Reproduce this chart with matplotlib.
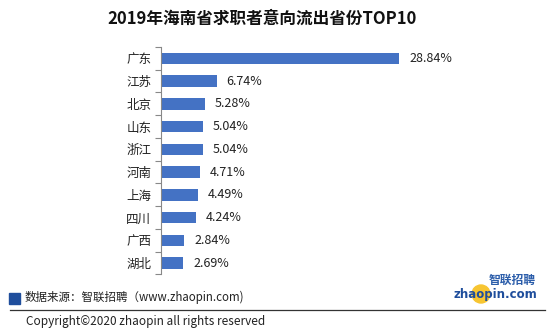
import matplotlib
matplotlib.use("Agg")
import matplotlib.pyplot as plt
from matplotlib.patches import Rectangle, Ellipse
from matplotlib.lines import Line2D

plt.rcParams['font.family'] = ['Noto Sans CJK SC', 'DejaVu Sans']

title = "2019年海南省求职者意向流出省份TOP10"
provinces = ["广东", "江苏", "北京", "山东", "浙江", "河南", "上海", "四川", "广西", "湖北"]
values = [28.84, 6.74, 5.28, 5.04, 5.04, 4.71, 4.49, 4.24, 2.84, 2.69]
labels = ["28.84%", "6.74%", "5.28%", "5.04%", "5.04%", "4.71%", "4.49%", "4.24%", "2.84%", "2.69%"]
source = "数据来源：智联招聘（www.zhaopin.com)"
copyright_text = "Copyright©2020 zhaopin all rights reserved"

W, H = 554, 335
fig = plt.figure(figsize=(W / 100, H / 100), dpi=100)
fig.patch.set_facecolor("white")

ax = fig.add_axes([161 / W, 1 - 274.5 / H, (450 - 161) / W, (274.5 - 47) / H])
bar_color = "#4472C4"
ypos = list(range(len(provinces)))
ax.barh(ypos, values, height=0.5, color=bar_color)
ax.set_ylim(len(provinces) - 0.5, -0.5)
ax.set_xlim(0, 35)
ax.set_yticks(ypos)
ax.set_yticklabels(provinces, fontsize=9, color="#222222")
ax.tick_params(axis="y", which="major", length=0, pad=7)
ax.set_yticks([i - 0.5 for i in range(len(provinces) + 1)], minor=True)
ax.tick_params(axis="y", which="minor", length=4, color="#888888", width=0.8)
ax.set_xticks([])
for s in ["top", "right", "bottom"]:
    ax.spines[s].set_visible(False)
ax.spines["left"].set_color("#888888")
ax.spines["left"].set_linewidth(0.8)
for y, v, lab in zip(ypos, values, labels):
    ax.text(v + 1.2, y, lab, va="center", ha="left", fontsize=9, color="#222222")

fig.text(262 / W, 1 - 19 / H, title, ha="center", va="center", fontsize=12,
         fontweight="bold", color="#111111")

# footer
fig.patches.append(Rectangle((9 / W, 1 - 304 / H), 11 / W, 11 / H, transform=fig.transFigure,
                             color="#1F4E9C", figure=fig))
fig.text(25 / W, 1 - 297 / H, source, ha="left", va="center", fontsize=8.3, color="#222222")
fig.lines.append(Line2D([10 / W, 545 / W], [1 - 310 / H, 1 - 310 / H], transform=fig.transFigure,
                        color="#333333", linewidth=0.9, figure=fig))
fig.text(26 / W, 1 - 322 / H, copyright_text, ha="left", va="center", fontsize=8.5,
         color="#222222")

# logo
fig.patches.append(Ellipse((481 / W, 1 - 294 / H), 18 / W, 18 / H, transform=fig.transFigure,
                           color="#F7C531", figure=fig))
fig.text(512 / W, 1 - 280.5 / H, "智联招聘", ha="center", va="center", fontsize=8.5,
         fontweight="bold", style="italic", color="#2B5DAA")
fig.text(495 / W, 1 - 294.5 / H, "zhaopin.com", ha="center", va="center", fontsize=8.5,
         fontweight="bold", color="#1F4E9C", family=["DejaVu Sans"])

fig.savefig("out.png", dpi=100)
